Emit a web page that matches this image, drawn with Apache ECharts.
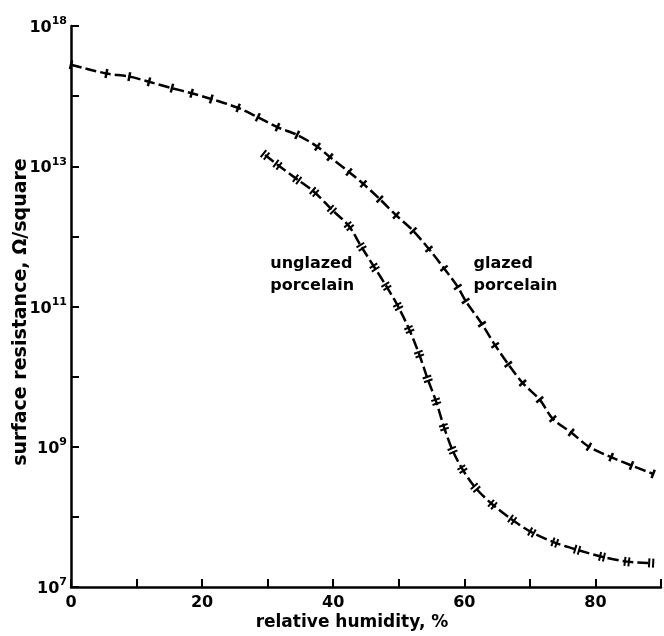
<!DOCTYPE html>
<html>
<head>
<meta charset="utf-8">
<script src="https://cdn.jsdelivr.net/npm/echarts@6/dist/echarts.min.js"></script>
<style>
html,body{margin:0;padding:0;background:#fff;}
#c{width:664px;height:636px;}
</style>
</head>
<body>
<div id="c"></div>
<script>
// relative humidity (%) and surface resistance (ohm/square)
const glazedRH = [0, 5.4, 8.9, 11.9, 15.4, 18.4, 21.4, 25.5, 28.5, 31.5, 34.5, 37.6, 39.5, 42.4, 44.6, 47.1, 49.6, 52.2, 54.6, 56.9, 59.0, 60.2, 62.7, 64.7, 66.7, 68.9, 71.5, 73.5, 76.3, 79.0, 82.4, 85.5, 88.8];
const glazedR = [2.8e14, 2.1e14, 1.9e14, 1.6e14, 1.3e14, 1.1e14, 9.1e13, 6.8e13, 5.0e13, 3.6e13, 2.8e13, 1.9e13, 1.35e13, 8.3e12, 5.6e12, 3.4e12, 2.0e12, 1.2e12, 6.6e11, 3.5e11, 1.9e11, 1.2e11, 5.6e10, 2.8e10, 1.5e10, 8.1e9, 4.7e9, 2.5e9, 1.6e9, 1.0e9, 7.1e8, 5.4e8, 4.1e8];
const unglazedRH = [29.6, 31.5, 34.5, 37.1, 39.8, 42.4, 44.3, 46.3, 48.1, 49.9, 51.6, 53.1, 54.4, 55.7, 56.9, 58.2, 59.7, 61.7, 64.3, 67.3, 70.3, 73.8, 77.2, 81.0, 84.8, 88.5];
const unglazedR = [1.45e13, 1.05e13, 6.5e12, 4.3e12, 2.4e12, 1.4e12, 7.1e11, 3.6e11, 1.95e11, 1.0e11, 4.7e10, 2.1e10, 9.3e9, 4.4e9, 1.9e9, 8.9e8, 4.8e8, 2.6e8, 1.5e8, 9.1e7, 6.0e7, 4.3e7, 3.4e7, 2.7e7, 2.3e7, 2.2e7];
const xTickLabels = {0: '0', 20: '20', 40: '40', 60: '60', 80: '80'};
const yTickLabels = {7: ['10', '7'], 9: ['10', '9'], 11: ['10', '11'], 13: ['10', '13'], 15: ['10', '18']};
const curveLabels = [
  {text: 'unglazed\nporcelain', rh: 30.4, r: 2.8e11},
  {text: 'glazed\nporcelain', rh: 61.4, r: 2.8e11}
];
const xTitle = 'relative humidity, %';
const yTitle = 'surface resistance, \u03a9/square';

const FONT = 'DejaVu Sans';
const chart = echarts.init(document.getElementById('c'), null, {renderer: 'canvas'});

function pairs(xs, ys) { return xs.map((x, i) => [x, ys[i]]); }

const option = {
  animation: false,
  backgroundColor: '#fff',
  grid: {left: 71, top: 26, width: 597, height: 561},
  xAxis: {
    type: 'value', min: 0, max: 90, interval: 10,
    axisLine: {show: true, onZero: false, lineStyle: {color: '#000', width: 2.5}},
    axisTick: {show: true, inside: true, length: 8, lineStyle: {color: '#000', width: 2}},
    splitLine: {show: false},
    axisLabel: {
      margin: 8, color: '#000', fontFamily: FONT, fontWeight: 'bold', fontSize: 16,
      formatter: v => xTickLabels[v] !== undefined ? xTickLabels[v] : ''
    }
  },
  yAxis: {
    type: 'log', logBase: 10, min: 1e7, max: 1e15, interval: 1,
    axisLine: {show: true, lineStyle: {color: '#000', width: 2.5}},
    axisTick: {show: true, inside: true, length: 8, lineStyle: {color: '#000', width: 2}},
    splitLine: {show: false},
    minorTick: {show: false},
    axisLabel: {
      margin: 4, color: '#000',
      formatter: v => {
        const e = Math.round(Math.log10(v));
        const t = yTickLabels[e];
        return t ? '{b|' + t[0] + '}{s|' + t[1] + '}' : '';
      },
      rich: {
        b: {fontFamily: FONT, fontWeight: 'bold', fontSize: 16, color: '#000', verticalAlign: 'bottom'},
        s: {fontFamily: FONT, fontWeight: 'bold', fontSize: 11, color: '#000', verticalAlign: 'top', padding: [0, 0, 9, 0]}
      }
    }
  },
  series: [
    {
      name: 'glazed', type: 'line', smooth: 0.3, data: pairs(glazedRH, glazedR),
      symbol: 'rect', symbolSize: [2.5, 9], showSymbol: true,
      itemStyle: {color: '#000'},
      lineStyle: {color: '#000', width: 2.5, type: [11, 4]}
    },
    {
      name: 'unglazed', type: 'line', smooth: 0.3, data: pairs(unglazedRH, unglazedR),
      symbol: 'path://M0,0h2v10h-2z M4,0h2v10h-2z', symbolSize: [6, 9], showSymbol: true,
      itemStyle: {color: '#000'},
      lineStyle: {color: '#000', width: 2.5, type: [11, 4]}
    }
  ],
  graphic: [
    {type: 'text', x: 352, y: 623,
     style: {text: xTitle, fontFamily: FONT, fontWeight: 'bold', fontSize: 17, fill: '#000', align: 'center', verticalAlign: 'middle'}},
    {type: 'text', rotation: Math.PI / 2, x: 21, y: 312,
     style: {text: yTitle, fontFamily: FONT, fontWeight: 'bold', fontSize: 19, fill: '#000', align: 'center', verticalAlign: 'middle'}}
  ]
};
chart.setOption(option);

// orient the cross marks perpendicular to each curve
function rotations(xs, ys) {
  const px = xs.map((x, i) => chart.convertToPixel({gridIndex: 0}, [x, ys[i]]));
  return px.map((p, i) => {
    const a = px[Math.max(0, i - 1)], b = px[Math.min(px.length - 1, i + 1)];
    return Math.atan2(-(b[1] - a[1]), b[0] - a[0]) * 180 / Math.PI;
  });
}
const gRot = rotations(glazedRH, glazedR);
const uRot = rotations(unglazedRH, unglazedR);
const labelGraphics = curveLabels.map(l => {
  const p = chart.convertToPixel({gridIndex: 0}, [l.rh, l.r]);
  return {type: 'text', x: p[0], y: p[1],
    style: {text: l.text, fontFamily: FONT, fontWeight: 'bold', fontSize: 16, lineHeight: 22,
            fill: '#000', align: 'left', verticalAlign: 'middle'}};
});
chart.setOption({
  series: [
    {data: pairs(glazedRH, glazedR).map((d, i) => ({value: d, symbolRotate: gRot[i]}))},
    {data: pairs(unglazedRH, unglazedR).map((d, i) => ({value: d, symbolRotate: uRot[i]}))}
  ],
  graphic: option.graphic.concat(labelGraphics)
});
</script>
</body>
</html>
